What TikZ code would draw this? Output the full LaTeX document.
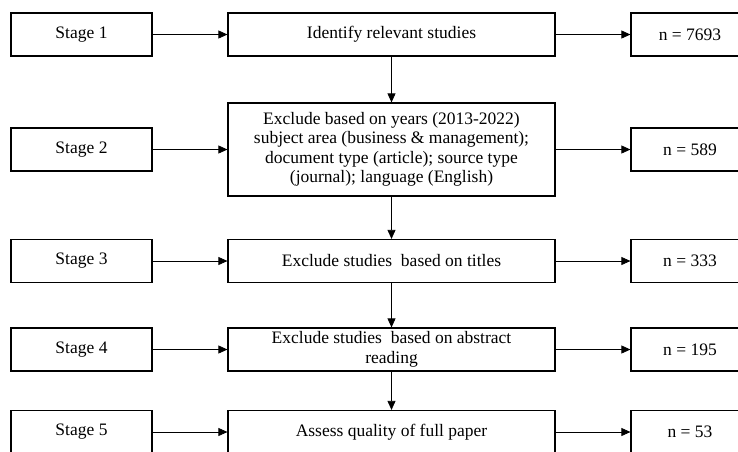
\documentclass[tikz,border=0pt]{standalone}
\usepackage{fontspec}
\setmainfont{Liberation Serif}
\usetikzlibrary{arrows.meta}
\tikzset{
  stagebox/.style={draw, line width=1.2pt, minimum width=141pt, minimum height=43pt, inner sep=0pt},
  taskbox/.style={draw, line width=1.2pt, minimum width=327pt, minimum height=43pt, inner sep=0pt, align=center},
  countbox/.style={draw, line width=1.2pt, minimum width=118pt, minimum height=43pt, inner sep=0pt},
}
\begin{document}
\begin{tikzpicture}[x=1pt, y=-1pt, font=\fontsize{17.5}{19.5}\selectfont,
    >={Triangle[length=9pt,width=8pt]}]
  \useasboundingbox (0,0) rectangle (738,451);
  \draw
    (81.5,34.5) node[stagebox] (s1){Stage 1}
    (81.5,149.5) node[stagebox] (s2){Stage 2}
    (81.5,261) node[stagebox] (s3){Stage 3}
    (81.5,349.5) node[stagebox] (s4){Stage 4}
    (81.5,432) node[stagebox] (s5){Stage 5};
  \draw
    (391.5,34.5) node[taskbox] (m1){Identify relevant studies}
    (391.5,149.5) node[taskbox, minimum height=93pt] (m2){Exclude based on years (2013-2022)\\
      subject area (business \& management);\\
      document type (article); source type\\
      (journal); language (English)}
    (391.5,261) node[taskbox] (m3){Exclude studies~ based on titles}
    (391.5,349.5) node[taskbox] (m4){Exclude studies~ based on abstract\\ reading}
    (391.5,432) node[taskbox] (m5){Assess quality of full paper};
  \draw
    (690,34.5) node[countbox] (n1){n = 7693}
    (690,149.5) node[countbox] (n2){n = 589}
    (690,261) node[countbox] (n3){n = 333}
    (690,349.5) node[countbox] (n4){n = 195}
    (690,432) node[countbox] (n5){n = 53};
  \begin{scope}[->, line width=0.7pt]
    \draw (s1) to (m1);
    \draw (s2) to (m2);
    \draw (s3) to (m3);
    \draw (s4) to (m4);
    \draw (s5) to (m5);
    \draw (m1) to (n1);
    \draw (m2) to (n2);
    \draw (m3) to (n3);
    \draw (m4) to (n4);
    \draw (m5) to (n5);
    \draw (m1) to (m2);
    \draw (m2) to (m3);
    \draw (m3) to (m4);
    \draw (m4) to (m5);
  \end{scope}
\end{tikzpicture}
\end{document}
